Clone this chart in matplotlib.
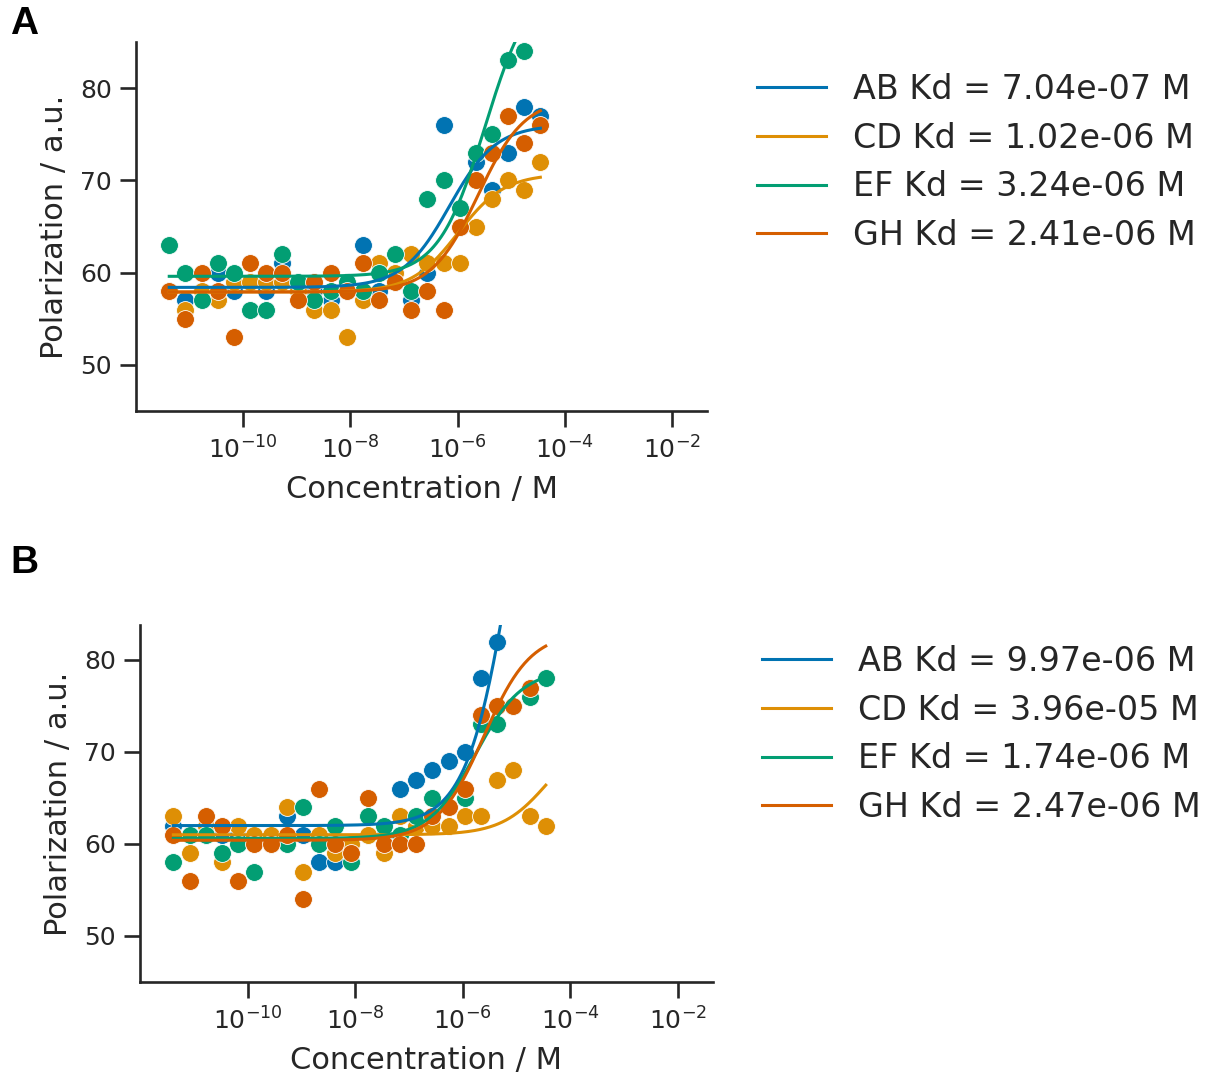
#!/usr/bin/env python
#*******************************************************************************
#plot.py
#*******************************************************************************

#Purpose:
#Fluorescence polarization titrations for four constructs (AB, CD, EF, GH) in
#two experiments (A and B). Measured polarization is shown as points and the
#one-site binding curves, drawn from the fitted Kd, bottom and top values, are
#shown as lines with the Kd in the legend.


#*******************************************************************************
#Import Python modules
#*******************************************************************************
import numpy
import matplotlib
matplotlib.use('Agg')
import matplotlib.pyplot as plt
from matplotlib.ticker import NullLocator


#*******************************************************************************
#Data
#*******************************************************************************
#Concentration of titrant (M), 2-fold serial dilution, lowest first
ZV_conc=[4.172e-12,8.345e-12,1.669e-11,3.338e-11,6.676e-11,1.335e-10,         \
         2.670e-10,5.341e-10,1.068e-09,2.136e-09,4.272e-09,8.545e-09,          \
         1.709e-08,3.418e-08,6.836e-08,1.367e-07,2.734e-07,5.469e-07,          \
         1.094e-06,2.188e-06,4.375e-06,8.750e-06,1.750e-05,3.500e-05]

YV_name=['AB','CD','EF','GH']

#-------------------------------------------------------------------------------
#Experiment A, polarization (a.u.)
#-------------------------------------------------------------------------------
ZV_A_AB=[58,57,58,60,58,59,58,61,58,58,57,58,63,58,59,57,60,76,65,72,69,73,78,77]
ZV_A_CD=[58,56,58,57,59,59,59,59,58,56,56,53,57,61,60,62,61,61,61,65,68,70,69,72]
ZV_A_EF=[63,60,57,61,60,56,56,62,59,57,58,59,58,60,62,58,68,70,67,73,75,83,84,87]
ZV_A_GH=[58,55,60,58,53,61,60,60,57,59,60,58,61,57,59,56,58,56,65,70,73,77,74,76]

#Fitted parameters
ZV_A_kd=[7.04e-07,1.02e-06,3.24e-06,2.41e-06]
ZV_A_bot=[58.4,57.9,59.6,57.9]
ZV_A_top=[76.0,70.7,92.0,78.9]

#-------------------------------------------------------------------------------
#Experiment B, polarization (a.u.)
#-------------------------------------------------------------------------------
ZV_B_AB=[62,61,61,61,61,61,61,63,61,58,58,60,61,61,66,67,68,69,70,78,82,87,90,92]
ZV_B_CD=[63,59,62,58,62,61,61,64,57,61,59,60,61,59,63,62,62,62,63,63,67,68,63,62]
ZV_B_EF=[58,61,61,59,60,57,60,60,64,60,62,58,63,62,61,63,65,64,65,73,73,75,76,78]
ZV_B_GH=[61,56,63,62,56,60,60,61,54,66,60,59,65,60,60,60,63,64,66,74,75,75,77,  \
         85.5]

#Fitted parameters
ZV_B_kd=[9.97e-06,3.96e-05,1.74e-06,2.47e-06]
ZV_B_bot=[62.0,61.0,60.6,60.4]
ZV_B_top=[127.0,72.5,79.0,83.0]


#*******************************************************************************
#Style
#*******************************************************************************
YV_col=['#0173b2','#de8f05','#029e73','#d55e00']
YS_ink='#262626'

plt.rcParams['font.family']=['DejaVu Sans']
plt.rcParams['text.color']=YS_ink
plt.rcParams['axes.labelcolor']=YS_ink
plt.rcParams['axes.edgecolor']=YS_ink
plt.rcParams['xtick.color']=YS_ink
plt.rcParams['ytick.color']=YS_ink


#*******************************************************************************
#Plotting function
#*******************************************************************************
def plot_panel(ax,ZM_pol,ZV_kd,ZV_bot,ZV_top,ZS_ymax,ZV_leg):
     ZV_x=numpy.logspace(numpy.log10(ZV_conc[0]),numpy.log10(ZV_conc[-1]),300)
     for JS in range(len(YV_name)):
          ax.scatter(ZV_conc,ZM_pol[JS],s=165,color=YV_col[JS],
                     edgecolor='white',linewidth=0.6,zorder=2)
          ZV_fit=ZV_bot[JS]+(ZV_top[JS]-ZV_bot[JS])*ZV_x/(ZV_kd[JS]+ZV_x)
          ax.plot(ZV_x,ZV_fit,color=YV_col[JS],linewidth=2.2,zorder=3,
                  label=YV_name[JS]+' Kd = '+'{:.2e}'.format(ZV_kd[JS])+' M')

     ax.set_xscale('log')
     ax.set_xlim(1e-12,4.5e-2)
     ax.set_ylim(45,ZS_ymax)
     ax.set_xticks([1e-10,1e-8,1e-6,1e-4,1e-2])
     ax.xaxis.set_minor_locator(NullLocator())
     ax.set_yticks([50,60,70,80])
     ax.tick_params(labelsize=18,length=11.5,width=1.9,pad=6)
     ax.tick_params(axis='x',pad=7)
     ax.spines['top'].set_visible(False)
     ax.spines['right'].set_visible(False)
     ax.spines['left'].set_linewidth(1.9)
     ax.spines['bottom'].set_linewidth(1.9)
     ax.set_xlabel('Concentration / M',fontsize=22,labelpad=8)
     ax.set_ylabel('Polarization / a.u.',fontsize=22,labelpad=8)

     ax.legend(loc='upper left',bbox_to_anchor=ZV_leg,
               bbox_transform=ax.figure.transFigure,frameon=False,fontsize=24,
               borderpad=0,borderaxespad=0,handlelength=2.07,
               handletextpad=0.8,labelspacing=0.47)


#*******************************************************************************
#Figure
#*******************************************************************************
IS_w=1212
IS_h=1074
fig=plt.figure(figsize=(IS_w/100,IS_h/100),dpi=100)

axA=fig.add_axes([136/IS_w,1-411/IS_h,571/IS_w,369/IS_h])
plot_panel(axA,[ZV_A_AB,ZV_A_CD,ZV_A_EF,ZV_A_GH],ZV_A_kd,ZV_A_bot,ZV_A_top,
           85,(757/IS_w,1-73/IS_h))

axB=fig.add_axes([140/IS_w,1-982/IS_h,573/IS_w,357/IS_h])
plot_panel(axB,[ZV_B_AB,ZV_B_CD,ZV_B_EF,ZV_B_GH],ZV_B_kd,ZV_B_bot,ZV_B_top,
           83.8,(762/IS_w,1-645/IS_h))

fig.text(10/IS_w,1-24/IS_h,'A',fontsize=28,fontweight='bold',
         family='Liberation Sans',color='black',va='center',ha='left')
fig.text(10/IS_w,1-563/IS_h,'B',fontsize=28,fontweight='bold',
         family='Liberation Sans',color='black',va='center',ha='left')

plt.savefig('out.png',dpi=100)


#*******************************************************************************
#End
#*******************************************************************************
